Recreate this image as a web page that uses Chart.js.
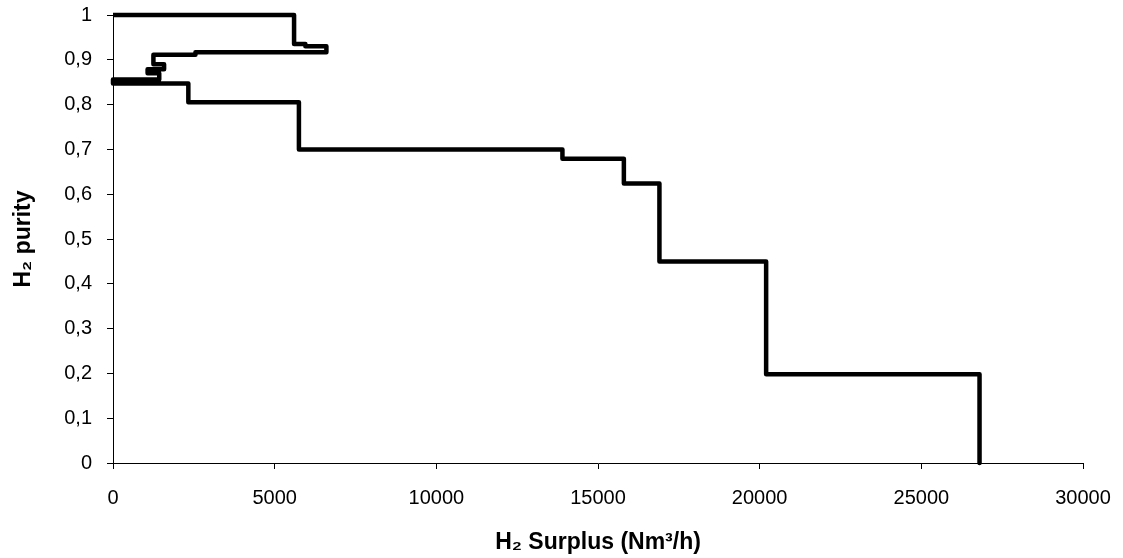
<!DOCTYPE html>
<html>
<head>
<meta charset="utf-8">
<title>H2 surplus diagram</title>
<script src="https://cdn.jsdelivr.net/npm/chart.js@4.4.1/dist/chart.umd.min.js"></script>
<style>
    body { margin: 0; background: #fff; }
    #wrap { width: 1123px; height: 558px; position: relative; }
</style>
</head>
<body>
<div id="wrap"><canvas id="surplusChart"></canvas></div>
<script>
// surplus (Nm3/h) and purity of each corner of the step curve, in drawing order
const surplusX = [0, 5600, 5600, 5950, 5950, 6600, 6600, 2550, 2550, 1250, 1250, 1580, 1580, 1070, 1070, 1430, 1430, 0, 0,
    2330, 2330, 5750, 5750, 13900, 13900, 15800, 15800, 16900, 16900, 20200, 20200, 26800, 26800];
const purityY = [1, 1, 0.935, 0.935, 0.930, 0.930, 0.917, 0.917, 0.911, 0.911, 0.890, 0.890, 0.879, 0.879, 0.870, 0.870, 0.856, 0.856, 0.847,
    0.847, 0.805, 0.805, 0.700, 0.700, 0.679, 0.679, 0.624, 0.624, 0.450, 0.450, 0.198, 0.198, 0];

const xTicks = [0, 5000, 10000, 15000, 20000, 25000, 30000];
const yTicks = [0, 0.1, 0.2, 0.3, 0.4, 0.5, 0.6, 0.7, 0.8, 0.9, 1];

const xTitle = "H₂ Surplus (Nm³/h)";
const yTitle = "H₂ purity";

let punkte = surplusX.map((x, i) => ({ x: x, y: purityY[i] }));

// axis look: black border, short outside ticks, no grid inside
const achse = {
    grid: { display: true, drawOnChartArea: false, color: "#000", lineWidth: 1, tickLength: 6 },
    border: { display: true, color: "#000", width: 1 }
};

new Chart(document.getElementById("surplusChart"), {
    type: "scatter",
    data: {
        datasets: [{
            data: punkte,
            showLine: true,
            borderColor: "#000",
            borderWidth: 4.5,
            borderJoinStyle: "round",
            pointRadius: 0,
            pointHoverRadius: 0,
            tension: 0,
            clip: 8
        }]
    },
    options: {
        responsive: true,
        maintainAspectRatio: false,
        animation: false,
        layout: { padding: { top: 15, right: 40, bottom: 0, left: 0 } },
        plugins: { legend: { display: false }, tooltip: { enabled: false } },
        scales: {
            x: {
                ...achse,
                type: "linear",
                min: xTicks[0],
                max: xTicks[xTicks.length - 1],
                afterBuildTicks: s => { s.ticks = xTicks.map(v => ({ value: v })); },
                afterFit: s => { s.height = 95; s.paddingLeft = 0; s.paddingRight = 0; },
                ticks: {
                    color: "#000", padding: 17,
                    font: { family: "'Liberation Sans', Arial, sans-serif", size: 20 },
                    callback: v => String(v)
                },
                title: {
                    display: true, text: xTitle, color: "#000",
                    padding: { top: 0, bottom: 2 },
                    font: { family: "'Liberation Sans', Arial, sans-serif", size: 23, weight: "bold" }
                }
            },
            y: {
                ...achse,
                type: "linear",
                min: yTicks[0],
                max: yTicks[yTicks.length - 1],
                afterBuildTicks: s => { s.ticks = yTicks.map(v => ({ value: v })); },
                afterFit: s => { s.width = 113; s.paddingTop = 0; s.paddingBottom = 0; },
                ticks: {
                    color: "#000", padding: 15,
                    font: { family: "'Liberation Sans', Arial, sans-serif", size: 20 },
                    callback: v => String(Math.round(v * 10) / 10).replace(".", ",")
                },
                title: {
                    display: true, text: yTitle, color: "#000",
                    padding: { top: 10, bottom: 0 },
                    font: { family: "'Liberation Sans', Arial, sans-serif", size: 23, weight: "bold" }
                }
            }
        }
    }
});
</script>
</body>
</html>
